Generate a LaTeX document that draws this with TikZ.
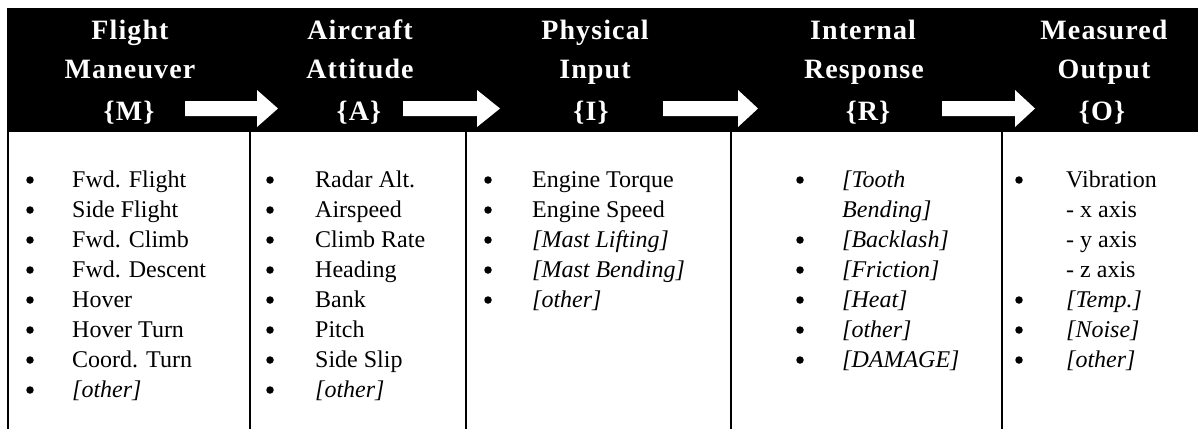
\documentclass[tikz,border=0pt]{standalone}
\usepackage{fontspec}
\setmainfont{Liberation Serif}
\newfontfamily\hdfont[LetterSpace=4]{Liberation Serif}
\tikzset{
  hd/.style={font=\hdfont\bfseries\fontsize{28}{28}\selectfont, text=white, inner sep=0pt, anchor=base},
  bd/.style={font=\fontsize{24}{24}\selectfont, inner sep=0pt, anchor=base west},
  bl/.style={circle, fill=black, draw=none, inner sep=0pt, minimum size=7.5pt},
  blockarrow/.style={fill=white, draw=none},
  sepline/.style={draw=black, line width=2pt}
}
\newcommand\mycolumn[4]{%
  \foreach \f/\t [count=\i] in {#4} {
    \pgfmathsetmacro\yy{187+30*(\i-1)}
    \pgfmathsetmacro\yb{180+30*(\i-1)}
    \if b\f \node[bl] (#1b\i) at (#2,\yb) {}; \fi
    \node[bd] (#1t\i) at (#3,\yy) {\t};
  }}
\newcommand\myblockarrow[3]{%
  \fill[blockarrow] (#1,101) -- (#2,101) -- (#2,90) -- (#3,108.5) -- (#2,127) -- (#2,116) -- (#1,116) -- cycle;}
\begin{document}
\begin{tikzpicture}[x=1pt,y=-1pt]
\useasboundingbox (0,0) rectangle (1198,429);
\fill[black] (7,8) rectangle (1198,132);
% separators
\coordinate (l0t) at (8,131); \coordinate (l0b) at (8,429);
\coordinate (l1t) at (250,131); \coordinate (l1b) at (250,429);
\coordinate (l2t) at (466,131); \coordinate (l2b) at (466,429);
\coordinate (l3t) at (731,131); \coordinate (l3b) at (731,429);
\coordinate (l4t) at (1002,131); \coordinate (l4b) at (1002,429);
\draw[sepline] (l0t) -- (l0b);
\draw[sepline] (l1t) -- (l1b);
\draw[sepline] (l2t) -- (l2b);
\draw[sepline] (l3t) -- (l3b);
\draw[sepline] (l4t) -- (l4b);
% headers
\node[hd] (h1a) at (130,39) {Flight};
\node[hd] (h1b) at (130,78) {Maneuver};
\node[hd] (h1c) at (129,120) {\{M\}};
\node[hd] (h2a) at (360,39) {Aircraft};
\node[hd] (h2b) at (360,78) {Attitude};
\node[hd] (h2c) at (359,120) {\{A\}};
\node[hd] (h3a) at (595,39) {Physical};
\node[hd] (h3b) at (595,78) {Input};
\node[hd] (h3c) at (591,120) {\{I\}};
\node[hd] (h4a) at (863,39) {Internal};
\node[hd] (h4b) at (864,78) {Response};
\node[hd] (h4c) at (868,120) {\{R\}};
\node[hd] (h5a) at (1104,39) {Measured};
\node[hd] (h5b) at (1104,78) {Output};
\node[hd] (h5c) at (1102,120) {\{O\}};
% arrows
\myblockarrow{185}{257}{278}
\myblockarrow{403}{477}{500}
\myblockarrow{663}{738}{758}
\myblockarrow{942}{1015}{1035}
% lists
\mycolumn{a}{30}{72}{b/Fwd. Flight, b/Side Flight, b/Fwd. Climb, b/Fwd. Descent, b/Hover, b/Hover Turn, b/Coord. Turn, b/\textit{[other]}}
\mycolumn{c}{270}{315}{b/Radar Alt., b/Airspeed, b/Climb Rate, b/Heading, b/Bank, b/Pitch, b/Side Slip, b/\textit{[other]}}
\mycolumn{d}{488}{532}{b/Engine Torque, b/Engine Speed, b/\textit{[Mast Lifting]}, b/\textit{[Mast Bending]}, b/\textit{[other]}}
\mycolumn{e}{800}{842}{b/\textit{[Tooth}, n/\textit{Bending]}, b/\textit{[Backlash]}, b/\textit{[Friction]}, b/\textit{[Heat]}, b/\textit{[other]}, b/\textit{[DAMAGE]}}
\mycolumn{f}{1019}{1066}{b/Vibration, n/- x axis, n/- y axis, n/- z axis, b/\textit{[Temp.]}, b/\textit{[Noise]}, b/\textit{[other]}}
\end{tikzpicture}
\end{document}
